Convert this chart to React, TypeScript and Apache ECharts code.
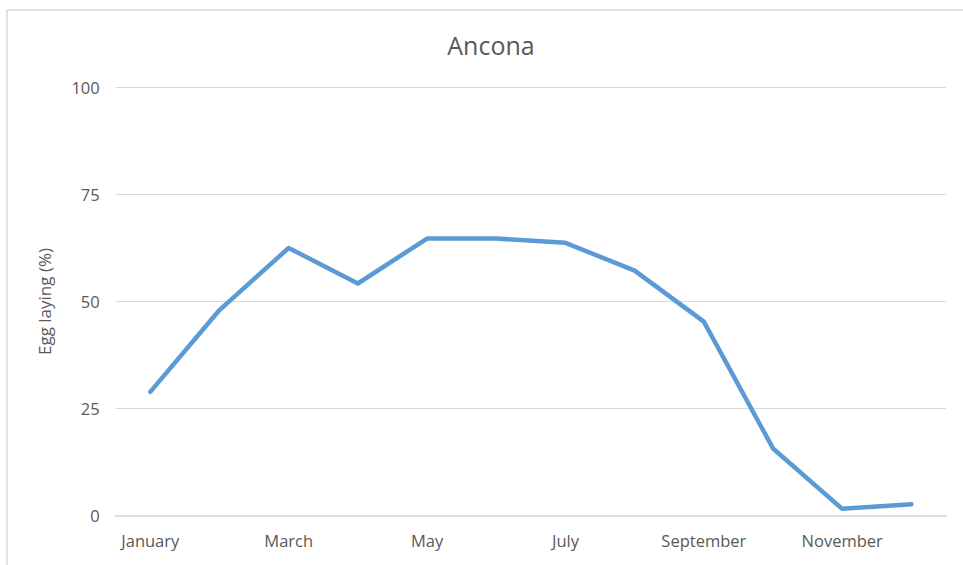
import React, { useEffect, useRef } from "react";
import * as echarts from "echarts";

const months = ["January", "February", "March", "April", "May", "June", "July", "August", "September", "October", "November", "December"];
const eggLaying = [28.9, 48.0, 62.5, 54.2, 64.7, 64.7, 63.7, 57.2, 45.3, 15.7, 1.6, 2.7];
const yTicks = { min: 0, max: 100, interval: 25 };

export default function App() {
  const ref = useRef<HTMLDivElement>(null);
  useEffect(() => {
    if (!ref.current) return;
    const chart = echarts.init(ref.current, undefined, { renderer: "svg" });
    const font = "'Open Sans', 'Liberation Sans', sans-serif";
    chart.setOption({
      animation: false,
      backgroundColor: "#ffffff",
      title: {
        text: "Ancona",
        left: 486,
        top: 27,
        textAlign: "center",
        textStyle: { fontFamily: font, fontSize: 25, fontWeight: "normal", color: "#595959" },
      },
      graphic: [
        {
          type: "rect",
          shape: { x: 7, y: 10, width: 1000, height: 600 },
          style: { fill: "none", stroke: "#d9d9d9", lineWidth: 1.5 },
          silent: true,
        },
      ],
      grid: { left: 115.7, right: 17, top: 87.3, bottom: 49.3, containLabel: false },
      xAxis: {
        type: "category",
        data: months,
        boundaryGap: true,
        axisLine: { lineStyle: { color: "#d9d9d9", width: 1.5 } },
        axisTick: { show: false },
        axisLabel: { interval: 1, color: "#595959", fontFamily: font, fontSize: 16.5, margin: 16 },
      },
      yAxis: {
        type: "value",
        min: yTicks.min,
        max: yTicks.max,
        interval: yTicks.interval,
        name: "Egg laying (%)",
        nameLocation: "middle",
        nameGap: 63,
        nameTextStyle: { color: "#595959", fontFamily: font, fontSize: 17 },
        axisLine: { show: false },
        axisTick: { show: false },
        axisLabel: { color: "#595959", fontFamily: font, fontSize: 16.5, margin: 16 },
        splitLine: { lineStyle: { color: "#d9d9d9", width: 1.2 } },
      },
      series: [
        {
          type: "line",
          data: eggLaying,
          symbol: "none",
          lineStyle: { color: "#5b9bd5", width: 4.5, cap: "round", join: "round" },
        },
      ],
    });
    return () => chart.dispose();
  }, []);
  return <div ref={ref} style={{ position: "fixed", left: 0, top: 0, width: 963, height: 565 }} />;
}
